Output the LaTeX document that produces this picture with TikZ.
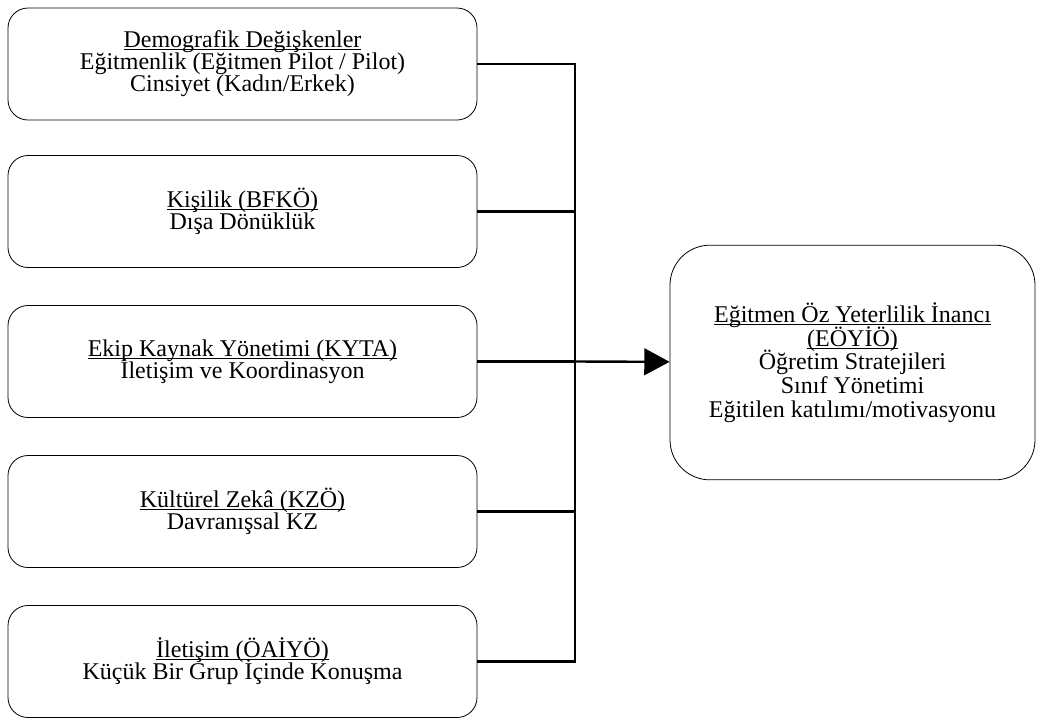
\documentclass[tikz,border=0pt]{standalone}
\usepackage{fontspec}
\setmainfont{Liberation Serif}
\usetikzlibrary{arrows.meta}
\newcommand{\ulin}[1]{\underline{\smash{#1}}\vphantom{#1}}
\newcommand{\tightlines}{\lineskiplimit=-20pt\relax}
\begin{document}
\begin{tikzpicture}[x=0.75pt, y=-0.75pt,
    factor/.style={rectangle, draw, line width=0.6pt, rounded corners=15pt, align=center, minimum width=351.75pt, minimum height=84pt, font={\fontsize{18}{16.6}\selectfont\tightlines}},
    outcome/.style={rectangle, draw, line width=0.6pt, rounded corners=30pt, align=center, minimum width=273.75pt, minimum height=176pt, font={\fontsize{18}{17.8}\selectfont\tightlines}},
    link/.style={line width=1.8pt}]
    \useasboundingbox (0,0) rectangle (1041,722);
    \node [factor] (demografik) at (242.5,64) {\ulin{Demografik Değişkenler} \\ Eğitmenlik (Eğitmen Pilot / Pilot) \\ Cinsiyet (Kadın/Erkek)};
    \node [factor] (kisilik) at (242.5,211.5) {\ulin{Kişilik (BFKÖ)} \\ Dışa Dönüklük};
    \node [factor] (ekip) at (242.5,361.5) {\ulin{Ekip Kaynak Yönetimi (KYTA)} \\ İletişim ve Koordinasyon};
    \node [factor] (kultur) at (242.5,511.5) {\ulin{Kültürel Zekâ (KZÖ)} \\ Davranışsal KZ};
    \node [factor] (iletisim) at (242.5,661.5) {\ulin{İletişim (ÖAİYÖ)} \\ Küçük Bir Grup İçinde Konuşma};
    \node [outcome] (eoyio) at (852.5,362.5) {\ulin{Eğitmen Öz Yeterlilik İnancı} \\ \ulin{(EÖYİÖ)} \\ Öğretim Stratejileri \\ Sınıf Yönetimi \\ Eğitilen katılımı/motivasyonu};
    \coordinate (hub) at (575,361.5);

    \draw[link] (demografik) -| (hub);
    \draw[link] (kisilik) -| (hub);
    \draw[link] (ekip) -- (hub);
    \draw[link] (kultur) -| (hub);
    \draw[link] (iletisim) -| (hub);
    \draw[link, -{Triangle[length=19pt, width=20pt]}] (hub) -- (eoyio);
\end{tikzpicture}
\end{document}
